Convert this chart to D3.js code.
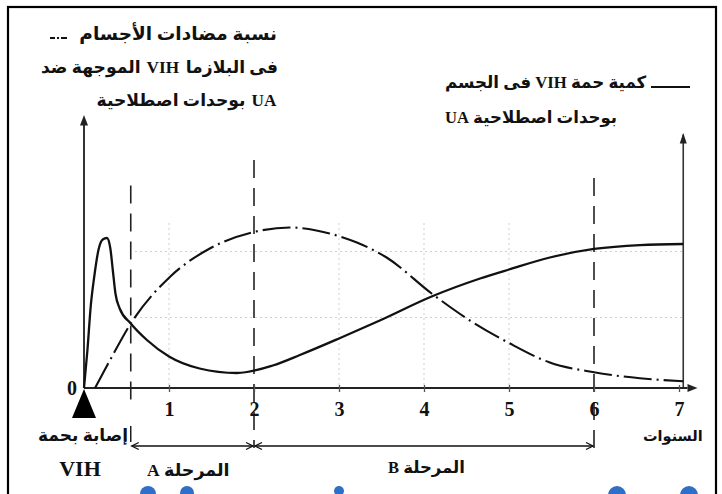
<!DOCTYPE html>
<html><head><meta charset="utf-8">
<script src="https://cdn.jsdelivr.net/npm/d3@7"></script>
<style>body{margin:0;background:#fff}svg{display:block}</style>
</head><body>
<svg id="c" width="722" height="494"></svg>
<script>
// ---------- data ----------
const viralYears  = [0, 0.04, 0.08, 0.12, 0.17, 0.22, 0.27, 0.31, 0.34, 0.37, 0.42, 0.55, 0.74, 1.0, 1.36, 1.8, 2.22, 2.54, 3.0, 3.48, 4.09, 4.66, 5.0, 5.48, 6.0, 6.54, 7.05];
const viralLevels = [0, 2.5, 5.5, 7.4, 9.2, 9.9, 10, 9.3, 7.8, 6.3, 5.3, 4.3, 3.2, 2.1, 1.3, 1.0, 1.5, 2.2, 3.3, 4.5, 6.1, 7.3, 7.9, 8.7, 9.27, 9.53, 9.6];
const antibodyYears  = [0.13, 0.31, 0.55, 1.01, 1.48, 2.0, 2.42, 2.89, 3.21, 3.56, 4.09, 4.54, 5.0, 5.48, 6.0, 6.54, 7.05];
const antibodyLevels = [0, 1.9, 4.3, 7.4, 9.3, 10.4, 10.7, 10.3, 9.7, 8.7, 6.3, 4.5, 3.0, 1.7, 1.05, 0.65, 0.45];
const tickYears  = [1, 2, 3, 4, 5, 6, 7];
const tickLabels = ["1", "2", "3", "4", "5", "6", "7"];
const phaseBounds = [0.55, 2, 6];
const phaseNames  = ["المرحلة A", "المرحلة B"];
const gridYears  = [1, 3, 4, 5];
const gridLevels = [4.7, 9.1];
// antibody legend lines, pieces in visual left-to-right order (as laid out in the source)
const antibodyLegend = [["نسبة مضادات الأجسام"], ["الموجهة ضد", "VIH", "فى البلازما"], ["بوحدات اصطلاحية", "UA"]];
const viralLegend    = ["كمية حمة VIH فى الجسم", "بوحدات اصطلاحية UA"];
const infectionLabel = ["إصابة بحمة", "VIH"];
const xAxisTitle = "السنوات";

// ---------- setup ----------
const svg = d3.select("#c");
const x = d3.scaleLinear().domain([0, 7]).range([84, 679]);
const y = d3.scaleLinear().domain([0, 18]).range([388, 118]);
const FONT = "'Liberation Serif','DejaVu Sans',serif";
const ink = "#111";

// frame
svg.append("rect").attr("x", 8).attr("y", 7).attr("width", 708).attr("height", 500)
  .attr("fill", "none").attr("stroke", "#000").attr("stroke-width", 2.2);

// faint grid
const g = svg.append("g").attr("stroke", "#cfcfcf").attr("stroke-width", 1).attr("stroke-dasharray", "2,3");
gridYears.forEach(v => g.append("line").attr("x1", x(v)).attr("x2", x(v)).attr("y1", y(11)).attr("y2", y(0)));
gridLevels.forEach(v => g.append("line").attr("x1", x(0.6)).attr("x2", x(7.05)).attr("y1", y(v)).attr("y2", y(v)));

// dashed phase verticals
const vTops = [13.5, 15.2, 14];
phaseBounds.forEach((v, i) => {
  svg.append("line").attr("x1", x(v)).attr("x2", x(v)).attr("y1", y(vTops[i])).attr("y2", i === 0 ? 408 : 448)
    .attr("stroke", "#222").attr("stroke-width", 1.6).attr("stroke-dasharray", "18,10");
});
svg.append("line").attr("x1", x(phaseBounds[0])).attr("x2", x(phaseBounds[0])).attr("y1", 426).attr("y2", 442).attr("stroke", ink).attr("stroke-width", 1.4);

// phase brackets
const by = 446;
function arrowHead(px, dir) {
  svg.append("path").attr("d", `M${px + dir * -7},${by - 3.5} L${px},${by} L${px + dir * -7},${by + 3.5}`)
    .attr("fill", "none").attr("stroke", ink).attr("stroke-width", 1.3);
}
[[0, 1], [1, 2]].forEach(([a, b]) => {
  const x1 = x(phaseBounds[a]) + 1, x2 = x(phaseBounds[b]) - 1;
  svg.append("line").attr("x1", x1).attr("x2", x2).attr("y1", by).attr("y2", by).attr("stroke", ink).attr("stroke-width", 1.3);
  arrowHead(x1, -1); arrowHead(x2, 1);
});

// axes
svg.append("line").attr("x1", x(0)).attr("x2", x(0)).attr("y1", y(0)).attr("y2", y(18)).attr("stroke", "#333").attr("stroke-width", 2);
svg.append("path").attr("d", `M${x(0) - 4},${y(17.5)} L${x(0)},${y(18.2)} L${x(0) + 4},${y(17.5)} Z`).attr("fill", "#222");
svg.append("line").attr("x1", x(7.05)).attr("x2", x(7.05)).attr("y1", y(0)).attr("y2", y(16.9)).attr("stroke", "#333").attr("stroke-width", 1.6);
svg.append("path").attr("d", `M${x(7.05) - 3.5},${y(16.3)} L${x(7.05)},${y(17.0)} L${x(7.05) + 3.5},${y(16.3)} Z`).attr("fill", "#222");
svg.append("line").attr("x1", x(0)).attr("x2", x(7.1)).attr("y1", y(0)).attr("y2", y(0)).attr("stroke", "#222").attr("stroke-width", 2);
svg.append("path").attr("d", `M${x(7.1)},${y(0) - 4} L${x(7.1) + 10},${y(0)} L${x(7.1)},${y(0) + 4} Z`).attr("fill", "#222");

const xAxis = d3.axisBottom(x).tickValues(tickYears).tickFormat((d, i) => tickLabels[i]).tickSize(5).tickPadding(12);
const ax = svg.append("g").attr("transform", `translate(0,${y(0) - 3})`).call(xAxis);
ax.select(".domain").remove();
ax.selectAll(".tick line").attr("stroke", "#555").attr("stroke-width", 1.3).attr("y1", 0).attr("y2", 7);
ax.selectAll(".tick text").attr("font-family", FONT).attr("font-weight", "bold").attr("font-size", 20).attr("fill", ink);

// origin label & infection triangle
svg.append("text").attr("x", 72).attr("y", 395).attr("text-anchor", "middle")
  .attr("font-family", FONT).attr("font-weight", "bold").attr("font-size", 20).attr("fill", ink).text("0");
svg.append("path").attr("d", `M${x(0)},${y(0) + 1} L${x(0) + 12},418 L${x(0) - 12},418 Z`).attr("fill", "#000");

// curves
const line = d3.line().x(d => x(d[0])).y(d => y(d[1])).curve(d3.curveMonotoneX);
svg.append("path").datum(viralYears.map((v, i) => [v, viralLevels[i]]))
  .attr("d", line).attr("fill", "none").attr("stroke", ink).attr("stroke-width", 2.3);
svg.append("path").datum(antibodyYears.map((v, i) => [v, antibodyLevels[i]]))
  .attr("d", line).attr("fill", "none").attr("stroke", ink).attr("stroke-width", 2.1)
  .attr("stroke-dasharray", "28,5,2,5");

// text helpers
function label(str, pos, base, opts = {}) {
  const t = svg.append("text").attr("x", 0).attr("y", base)
    .attr("font-family", FONT).attr("font-weight", opts.weight || "bold")
    .attr("font-size", opts.size || 16).attr("fill", ink)
    .attr("direction", opts.dir || "rtl").attr("text-anchor", "start").text(str);
  const b = t.node().getBBox();
  let dx;
  if (pos.left !== undefined) dx = pos.left - b.x;
  else if (pos.right !== undefined) dx = pos.right - (b.x + b.width);
  else dx = pos.center - (b.x + b.width / 2);
  t.attr("x", +t.attr("x") + dx);
  return t;
}
// lay pieces out left-to-right, ending at `right`
function piecesRight(pieces, right, base, size, gap) {
  let cur = right;
  for (let i = pieces.length - 1; i >= 0; i--) {
    const t = label(pieces[i], {right: cur}, base, {size});
    const b = t.node().getBBox();
    cur = b.x - gap;
  }
}

// antibody legend (top left)
piecesRight(antibodyLegend[0], 277, 40, 18.5, 6);
piecesRight(antibodyLegend[1], 278, 73, 17.2, 6);
piecesRight(antibodyLegend[2], 277, 106, 17.2, 6);
svg.append("line").attr("x1", 50).attr("x2", 67).attr("y1", 38).attr("y2", 38)
  .attr("stroke", ink).attr("stroke-width", 2).attr("stroke-dasharray", "5,2,2,2,6");

// viral legend (top right)
label(viralLegend[0], {left: 445}, 88, {size: 16.7});
label(viralLegend[1], {left: 445}, 123, {size: 16.6});
svg.append("line").attr("x1", 651).attr("x2", 690).attr("y1", 87).attr("y2", 87).attr("stroke", ink).attr("stroke-width", 2);

// bottom labels
label(infectionLabel[0], {right: 128}, 441, {size: 17});
label(infectionLabel[1], {center: 80}, 476, {size: 22});
label(phaseNames[0], {left: 147}, 476, {size: 17.5});
label(phaseNames[1], {left: 388}, 473, {size: 16.5});
label(xAxisTitle, {left: 643}, 441, {size: 14.5});

// watermark fragments at bottom edge
const blobs = [[148, 8], [187, 7], [339, 5], [617, 9], [689, 9]];
blobs.forEach(([cx, r]) => svg.append("ellipse").attr("cx", cx).attr("cy", 494 + r - 8).attr("rx", r).attr("ry", r).attr("fill", "#2f6fc8"));
</script>
</body></html>
